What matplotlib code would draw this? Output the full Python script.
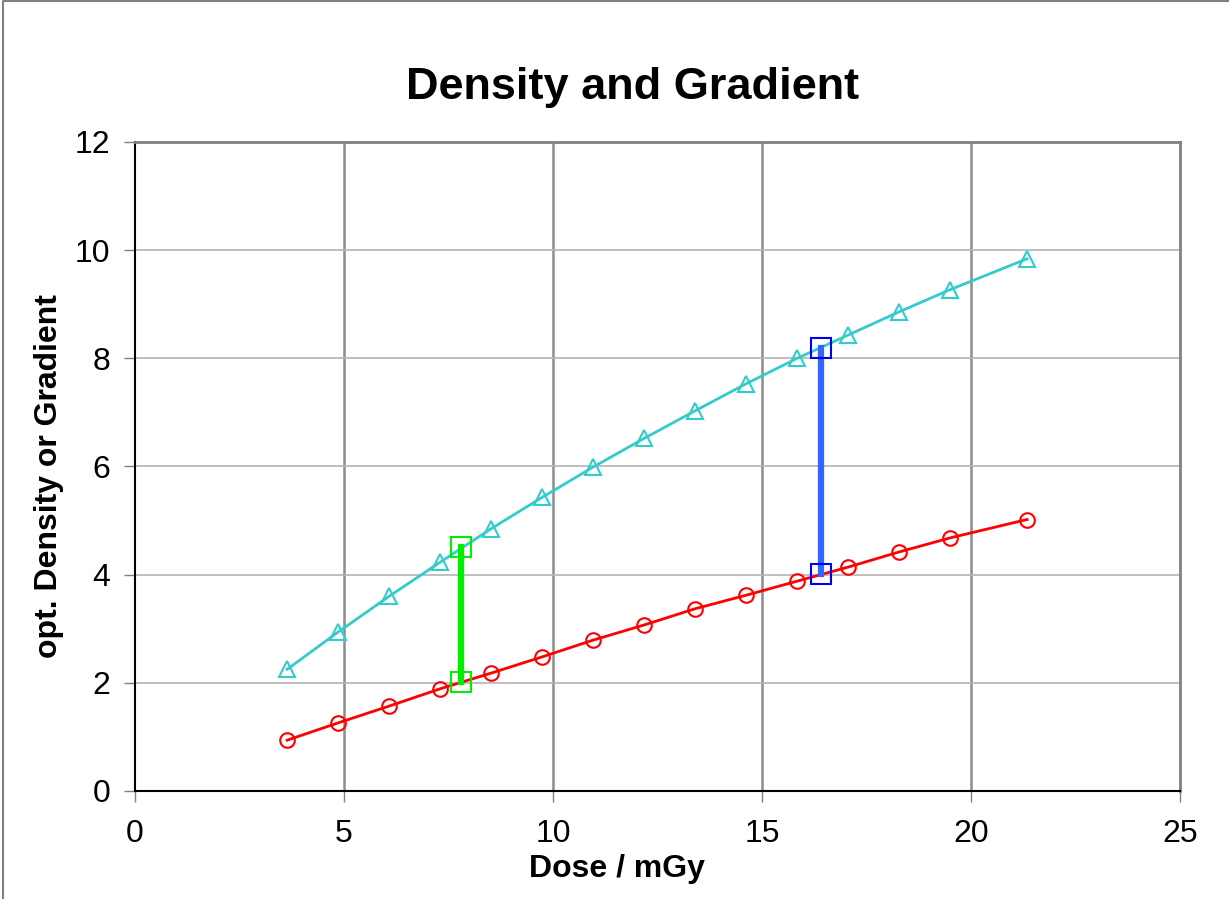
import matplotlib.pyplot as plt
from matplotlib.lines import Line2D

plt.rcParams['font.family'] = ['Liberation Sans', 'DejaVu Sans']

# dose values (mGy)
dose = [3.64, 4.86, 6.08, 7.30, 8.52, 9.74, 10.96, 12.18, 13.40, 14.62,
        15.84, 17.06, 18.28, 19.50, 21.34]
# optical density (red circles)
density = [0.94, 1.26, 1.57, 1.89, 2.18, 2.48, 2.79, 3.07, 3.37, 3.62,
           3.88, 4.14, 4.42, 4.68, 5.02]
# gradient (cyan triangles)
gradient = [2.25, 2.94, 3.60, 4.23, 4.85, 5.43, 5.99, 6.52, 7.03, 7.53,
            8.00, 8.43, 8.86, 9.27, 9.84]

# marker segments
green_x = [7.80, 7.80]
green_y = [2.02, 4.51]
blue_x = [16.41, 16.41]
blue_y = [4.01, 8.20]

fig = plt.figure(figsize=(12.29, 8.99), dpi=100)
ax = fig.add_axes([135 / 1229, 1 - 791 / 899, (1180 - 135) / 1229, (791 - 142) / 899])

# vertical grid dark, horizontal light
for xv in [5, 10, 15, 20]:
    ax.axvline(xv, color='#8c8c8c', lw=1.8, zorder=0)
for yv in [2, 4, 6, 8, 10]:
    ax.axhline(yv, color='#b4b4b4', lw=1.2, zorder=0)

ax.plot(dose, density, color='red', lw=2, marker='o', ms=10.5,
        mfc='none', mec='red', mew=1.5, zorder=3)
ax.plot(dose, gradient, color='#33cccc', lw=2, marker='^', ms=11.5,
        mfc='none', mec='#33cccc', mew=1.5, zorder=3)

ax.plot(green_x, green_y, color='#00ee00', lw=4.5, zorder=4)
ax.plot(green_x, green_y, ls='none', marker='s', ms=15, mfc='none',
        mec='#00ee00', mew=1.5, zorder=5)
ax.plot(blue_x, blue_y, color='#3366ff', lw=4.5, zorder=4)
ax.plot(blue_x, blue_y, ls='none', marker='s', ms=15, mfc='none',
        mec='#0000ee', mew=1.5, zorder=5)

ax.set_xlim(0, 25)
ax.set_ylim(0, 12)
ax.set_xticks([0, 5, 10, 15, 20, 25])
ax.set_yticks([0, 2, 4, 6, 8, 10, 12])
ax.tick_params(labelsize=23, length=8, width=1, color='#808080')
ax.tick_params(axis='x', pad=12)
ax.tick_params(axis='y', pad=10)

for s in ['left', 'bottom']:
    ax.spines[s].set_color('black')
    ax.spines[s].set_linewidth(1.5)
for s in ['top', 'right']:
    ax.spines[s].set_color('#808080')
    ax.spines[s].set_linewidth(2)

ax.set_xlabel('Dose / mGy', fontsize=23, fontweight='bold')
ax.xaxis.set_label_coords(0.461, -0.097)
ax.set_ylabel('opt. Density or Gradient', fontsize=23, fontweight='bold')
ax.yaxis.set_label_coords(-0.068, 0.485)
fig.text(0.515, 1 - 87 / 899, 'Density and Gradient', fontsize=32.5,
         fontweight='bold', ha='center', va='center')

# chart frame: only left and top edges show in the cropped picture
fig.lines.append(Line2D([0.0025, 0.0025, 1.0], [0.0, 0.9985, 0.9985],
                        transform=fig.transFigure, color='#808080', lw=1.5))

fig.savefig('out.png', dpi=100)
